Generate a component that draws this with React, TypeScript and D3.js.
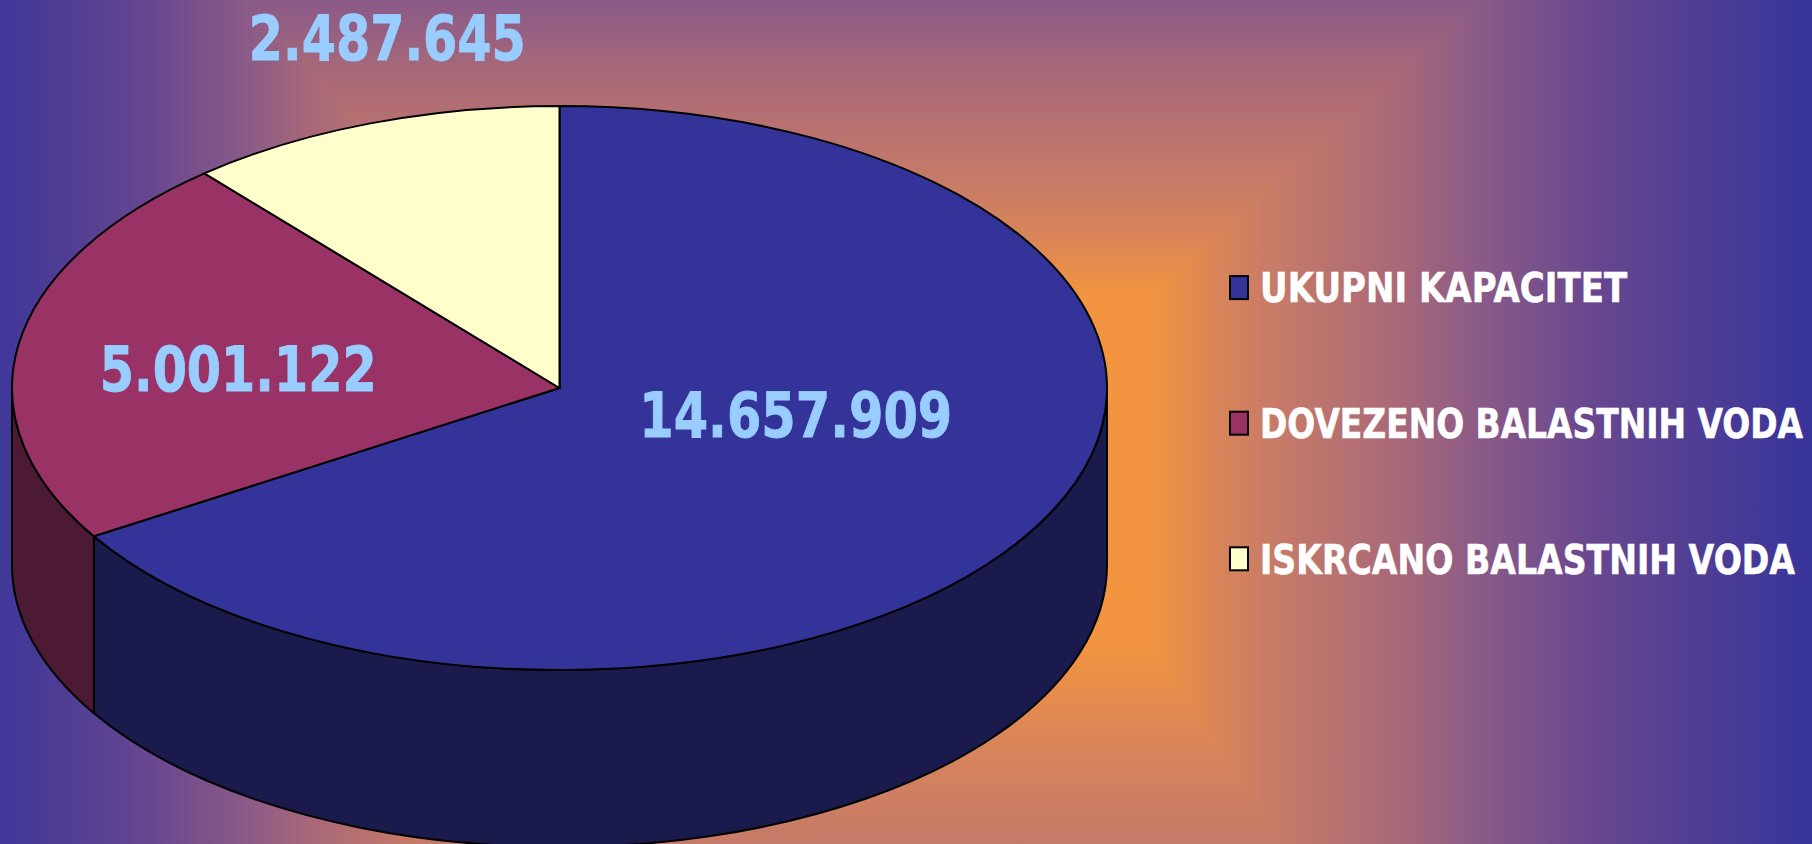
import React, { useLayoutEffect, useRef } from "react";
import * as d3 from "d3";

// ---------- data ----------
const CATEGORIES = ["UKUPNI KAPACITET", "DOVEZENO BALASTNIH VODA", "ISKRCANO BALASTNIH VODA"];
const VALUES = [14657909, 5001122, 2487645];
const SLICE_COLORS = ["#333399", "#993366", "#ffffcc"];

// ---------- layout / style ----------
const W = 1812;
const H = 844;
const PIE = { cx: 559.5, cy: 388, rx: 547.5, ry: 282, depth: 177 };
// label anchor factors (horizontal, vertical) along each slice's mid-angle
const LABEL_FACTORS: [number, number][] = [
  [0.494, 0.19],
  [0.594, 0.443],
  [0.91, 1.327],
];
const LABEL_FONT = 62.5;
const LABEL_CAP = 45.6;
const LABEL_DIGIT_W = 36;
const LABEL_DOT_W = 12.5;
const LEGEND = { x: 1230, textX: 1260, y0: 287.6, step: 135.6, font: 40.6, cap: 29.6 };
const LEGEND_WIDTHS = [367, 543, 535];

// background "from centre" rectangular gradient
const BG_INNER = { x1: 520, x2: 1150, y1: 295, y2: 644 };
const BG_SCALE = { l: 550, r: 662, t: 590, b: 1000 };
const BG_STOPS: [number, string][] = [
  [0, "#f29440"],
  [0.106, "#d8845a"],
  [0.196, "#c67a68"],
  [0.378, "#a86878"],
  [0.498, "#8a5a88"],
  [0.68, "#66468f"],
  [0.89, "#463a97"],
  [1, "#37349a"],
];

const fmt = d3
  .formatLocale({ decimal: ",", thousands: ".", grouping: [3], currency: ["", ""] })
  .format(",");

function half(c: string) {
  const r = d3.rgb(c);
  return d3.rgb(r.r * 0.5, r.g * 0.5, r.b * 0.5).formatHex();
}

export default function App() {
  const svgRef = useRef<SVGSVGElement | null>(null);

  const arcs = d3
    .pie<number>()
    .sort(null)
    .startAngle(0)
    .endAngle(2 * Math.PI)(VALUES);

  const pt = (a: number, dy = 0, fx = 1, fy = 1): [number, number] => [
    PIE.cx + PIE.rx * fx * Math.sin(a),
    PIE.cy - PIE.ry * fy * Math.cos(a) + dy,
  ];

  const topPath = (a0: number, a1: number) => {
    const p0 = pt(a0);
    const p1 = pt(a1);
    const large = a1 - a0 > Math.PI ? 1 : 0;
    return `M${PIE.cx},${PIE.cy}L${p0[0]},${p0[1]}A${PIE.rx},${PIE.ry} 0 ${large} 1 ${p1[0]},${p1[1]}Z`;
  };

  const sidePath = (a0: number, a1: number) => {
    const s = Math.max(a0, Math.PI / 2);
    const e = Math.min(a1, (3 * Math.PI) / 2);
    if (e <= s) return null;
    const ps = pt(s);
    const pe = pt(e);
    const pe2 = pt(e, PIE.depth);
    const ps2 = pt(s, PIE.depth);
    const large = e - s > Math.PI ? 1 : 0;
    return `M${ps[0]},${ps[1]}A${PIE.rx},${PIE.ry} 0 ${large} 1 ${pe[0]},${pe[1]}L${pe2[0]},${pe2[1]}A${PIE.rx},${PIE.ry} 0 ${large} 0 ${ps2[0]},${ps2[1]}Z`;
  };

  // background polygons
  const { x1, x2, y1, y2 } = BG_INNER;
  const k = 4;
  const S = BG_SCALE;
  const bgParts = [
    {
      id: "bgTop",
      pts: [[x1, y1], [x2, y1], [x2 + S.r * k, y1 - S.t * k], [x1 - S.l * k, y1 - S.t * k]],
      g: { x1: 0, y1: y1, x2: 0, y2: y1 - S.t },
    },
    {
      id: "bgBottom",
      pts: [[x1, y2], [x2, y2], [x2 + S.r * k, y2 + S.b * k], [x1 - S.l * k, y2 + S.b * k]],
      g: { x1: 0, y1: y2, x2: 0, y2: y2 + S.b },
    },
    {
      id: "bgLeft",
      pts: [[x1, y1], [x1, y2], [x1 - S.l * k, y2 + S.b * k], [x1 - S.l * k, y1 - S.t * k]],
      g: { x1: x1, y1: 0, x2: x1 - S.l, y2: 0 },
    },
    {
      id: "bgRight",
      pts: [[x2, y1], [x2, y2], [x2 + S.r * k, y2 + S.b * k], [x2 + S.r * k, y1 - S.t * k]],
      g: { x1: x2, y1: 0, x2: x2 + S.r, y2: 0 },
    },
  ];

  const labelWidth = (s: string) =>
    s.split("").reduce((acc, ch) => acc + (ch === "." ? LABEL_DOT_W : LABEL_DIGIT_W), 0);

  const font = "'DejaVu Sans', Verdana, Tahoma, sans-serif";

  // horizontally condense each text to the width it has in the reference
  useLayoutEffect(() => {
    const fit = () => {
      if (!svgRef.current) return;
      d3.select(svgRef.current)
        .selectAll<SVGTextElement, unknown>("text[data-w]")
        .each(function () {
          const el = this;
          const target = +(el.getAttribute("data-w") || 0);
          const nat = el.getComputedTextLength();
          const tx = el.getAttribute("data-x");
          const ty = el.getAttribute("data-y");
          if (nat > 0) el.setAttribute("transform", `translate(${tx},${ty}) scale(${target / nat},1)`);
        });
    };
    fit();
    if ((document as any).fonts && (document as any).fonts.ready) (document as any).fonts.ready.then(fit);
  }, []);

  return (
    <svg
      ref={svgRef}
      width={W}
      height={H}
      viewBox={`0 0 ${W} ${H}`}
      style={{ position: "fixed", left: 0, top: 0, display: "block" }}
    >
      <defs>
        {bgParts.map((p) => (
          <linearGradient
            key={p.id}
            id={p.id}
            gradientUnits="userSpaceOnUse"
            x1={p.g.x1}
            y1={p.g.y1}
            x2={p.g.x2}
            y2={p.g.y2}
          >
            {BG_STOPS.map(([o, c], i) => (
              <stop key={i} offset={o} stopColor={c} />
            ))}
          </linearGradient>
        ))}
      </defs>

      {/* background */}
      <rect x={0} y={0} width={W} height={H} fill="#a86878" />
      {bgParts.map((p) => (
        <polygon
          key={p.id}
          points={p.pts.map((q) => q.join(",")).join(" ")}
          fill={`url(#${p.id})`}
          stroke={`url(#${p.id})`}
          strokeWidth={1.5}
        />
      ))}
      <rect x={x1} y={y1} width={x2 - x1} height={y2 - y1} fill={BG_STOPS[0][1]} />

      {/* pie sides then tops */}
      <g stroke="#000" strokeWidth={2} strokeLinejoin="round">
        {arcs.map((a, i) => {
          const d = sidePath(a.startAngle, a.endAngle);
          return d ? <path key={"s" + i} d={d} fill={half(SLICE_COLORS[i])} /> : null;
        })}
        {arcs.map((a, i) => (
          <path key={"t" + i} d={topPath(a.startAngle, a.endAngle)} fill={SLICE_COLORS[i]} />
        ))}
      </g>

      {/* value labels */}
      {arcs.map((a, i) => {
        const mid = (a.startAngle + a.endAngle) / 2;
        const [fx, fy] = LABEL_FACTORS[i];
        const [lx, ly] = pt(mid, 0, fx, fy);
        const txt = fmt(VALUES[i]);
        const by = ly + LABEL_CAP / 2;
        return (
          <text
            key={"l" + i}
            data-w={labelWidth(txt)}
            data-x={lx}
            data-y={by}
            transform={`translate(${lx},${by}) scale(0.78,1)`}
            textAnchor="middle"
            fontFamily={font}
            fontWeight="bold"
            fontSize={LABEL_FONT}
            fill="#99ccff"
            stroke="#99ccff"
            strokeWidth={0.9}
          >
            {txt}
          </text>
        );
      })}

      {/* legend */}
      {CATEGORIES.map((c, i) => {
        const cy = LEGEND.y0 + i * LEGEND.step;
        const by = cy + LEGEND.cap / 2;
        return (
          <g key={"lg" + i}>
            <rect
              x={LEGEND.x}
              y={cy - 11.5}
              width={18}
              height={23}
              fill={SLICE_COLORS[i]}
              stroke="#000"
              strokeWidth={2}
            />
            <text
              data-w={LEGEND_WIDTHS[i]}
              data-x={LEGEND.textX}
              data-y={by}
              transform={`translate(${LEGEND.textX},${by}) scale(0.8,1)`}
              fontFamily={font}
              fontWeight="bold"
              fontSize={LEGEND.font}
              fill="#ffffff"
              stroke="#ffffff"
              strokeWidth={0.6}
            >
              {c}
            </text>
          </g>
        );
      })}
    </svg>
  );
}
